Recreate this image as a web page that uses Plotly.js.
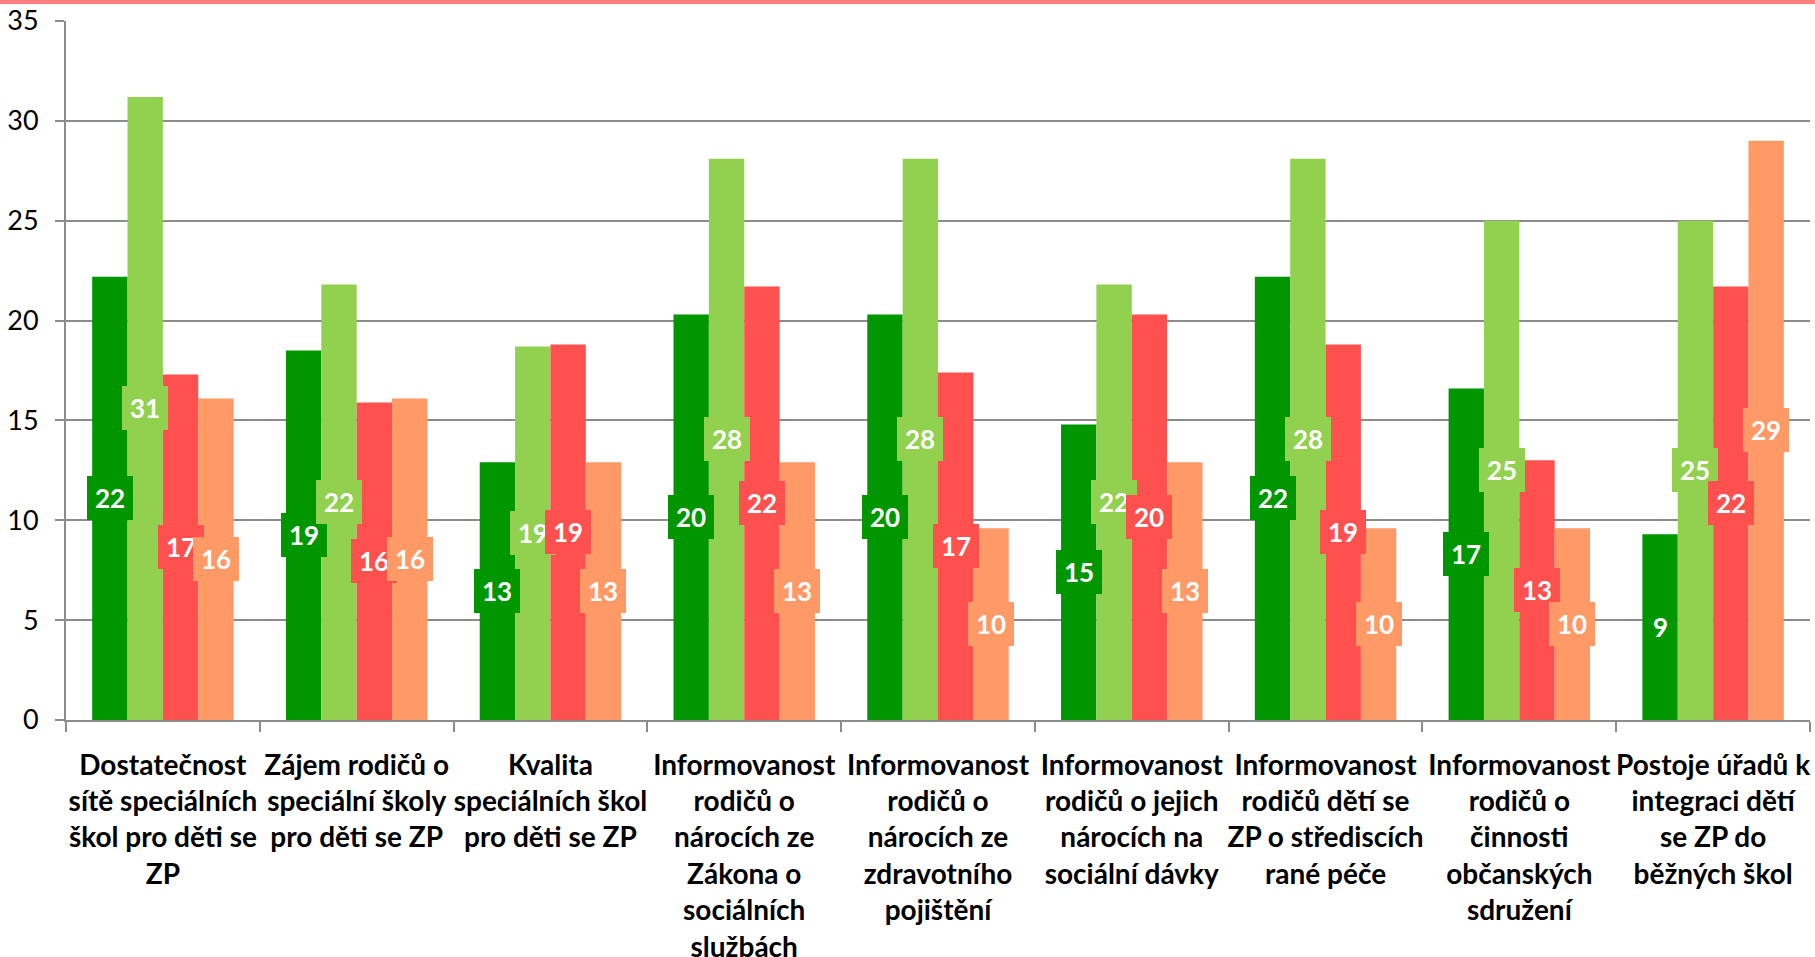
<!DOCTYPE html>
<html>
<head>
<meta charset="utf-8">
<script src="https://cdn.plot.ly/plotly-3.0.1.min.js"></script>
<style>
  html, body { margin: 0; padding: 0; background: #ffffff; overflow: hidden; }
  #wrap { position: relative; width: 1815px; height: 957px; }
  #topband { position: absolute; left: 0; top: 0; width: 1815px; height: 4px; background: #ff7f7f; z-index: 10; }
  #chart { width: 1815px; height: 957px; }
</style>
</head>
<body>
<div id="wrap">
  <div id="topband"></div>
  <div id="chart"></div>
</div>
<script>
// ---- data ----
const categories = [
  "Dostatečnost<br>sítě speciálních<br>škol pro děti se<br>ZP",
  "Zájem rodičů o<br>speciální školy<br>pro děti se ZP",
  "Kvalita<br>speciálních škol<br>pro děti se ZP",
  "Informovanost<br>rodičů o<br>nárocích ze<br>Zákona o<br>sociálních<br>službách",
  "Informovanost<br>rodičů o<br>nárocích ze<br>zdravotního<br>pojištění",
  "Informovanost<br>rodičů o jejich<br>nárocích na<br>sociální dávky",
  "Informovanost<br>rodičů dětí se<br>ZP o střediscích<br>rané péče",
  "Informovanost<br>rodičů o<br>činnosti<br>občanských<br>sdružení",
  "Postoje úřadů k<br>integraci dětí<br>se ZP do<br>běžných škol"
];
const seriesNames = ["Řada 1", "Řada 2", "Řada 3", "Řada 4"];
const series1 = [22.2, 18.5, 12.9, 20.3, 20.3, 14.8, 22.2, 16.6, 9.3];
const series2 = [31.2, 21.8, 18.7, 28.1, 28.1, 21.8, 28.1, 25.0, 25.0];
const series3 = [17.3, 15.9, 18.8, 21.7, 17.4, 20.3, 18.8, 13.0, 21.7];
const series4 = [16.1, 16.1, 12.9, 12.9, 9.6, 12.9, 9.6, 9.6, 29.0];
const yTickVals = [0, 5, 10, 15, 20, 25, 30, 35];

// ---- styles ----
const colors = ["#009600", "#92d050", "#ff5050", "#ff9966"];
const allSeries = [series1, series2, series3, series4];
const BARGAP = 0.27;
const FONT = "Lato, 'Open Sans', sans-serif";
const GRID = "#8c8c8c";

const traces = allSeries.map((vals, k) => ({
  type: "bar",
  name: seriesNames[k],
  x: categories,
  y: vals,
  marker: { color: colors[k], line: { width: 0 } },
  hoverinfo: "x+y"
}));

// data labels: centred on each bar, box in bar colour
const nSeries = allSeries.length;
const barW = (1 - BARGAP) / nSeries;
const annotations = [];
allSeries.forEach((vals, k) => {
  const off = (k - (nSeries - 1) / 2) * barW;
  vals.forEach((v, i) => {
    annotations.push({
      x: i + off,
      y: v / 2,
      xref: "x",
      yref: "y",
      text: String(Math.round(v)),
      showarrow: false,
      xanchor: "center",
      yanchor: "middle",
      bgcolor: colors[k],
      borderpad: 8,
      borderwidth: 0,
      height: 28,
      font: { family: FONT, size: 26, color: "#ffffff", weight: 700 }
    });
  });
});

const layout = {
  width: 1815,
  height: 957,
  margin: { l: 66, r: 5, t: 21, b: 237, pad: 0 },
  paper_bgcolor: "#ffffff",
  plot_bgcolor: "#ffffff",
  showlegend: false,
  barmode: "group",
  bargap: BARGAP,
  bargroupgap: 0,
  font: { family: FONT, color: "#000000" },
  xaxis: {
    type: "category",
    automargin: false,
    showline: true,
    linecolor: GRID,
    linewidth: 2,
    ticks: "outside",
    tickson: "boundaries",
    ticklen: 10,
    tickwidth: 2,
    tickcolor: GRID,
    ticklabelstandoff: 19,
    tickangle: 0,
    tickfont: { family: FONT, size: 28, color: "#000000", weight: 700 },
    showgrid: false,
    fixedrange: true
  },
  yaxis: {
    range: [0, 35],
    tickvals: yTickVals,
    automargin: false,
    showline: true,
    linecolor: GRID,
    linewidth: 2,
    ticks: "outside",
    ticklen: 9,
    tickwidth: 2,
    tickcolor: GRID,
    ticklabelstandoff: 11,
    showgrid: true,
    gridcolor: GRID,
    gridwidth: 2,
    zeroline: false,
    tickfont: { family: FONT, size: 27, color: "#000000" },
    fixedrange: true
  },
  annotations: annotations
};

Plotly.newPlot("chart", traces, layout, { displayModeBar: false, staticPlot: true });
</script>
</body>
</html>
